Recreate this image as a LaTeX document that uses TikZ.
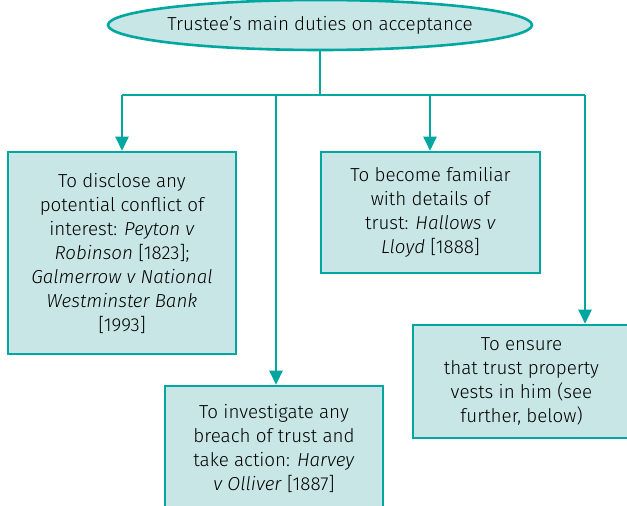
\documentclass[tikz,border=0pt]{standalone}
\usepackage{fontspec}
\setmainfont{Fira Sans}[UprightFont={* Light}, ItalicFont={* Light Italic}]
\usetikzlibrary{arrows.meta,shapes.geometric}
\definecolor{tealline}{RGB}{0,166,160}
\definecolor{tealfill}{RGB}{200,230,230}
\tikzset{
  x=1pt, y=-1pt,
  duty/.style={draw=tealline, fill=tealfill, line width=2.6pt, rectangle,
    align=center, inner sep=0pt, font=\fontsize{18.8}{24}\selectfont},
  title/.style={draw=tealline, fill=tealfill, line width=2.6pt, ellipse,
    inner xsep=-20pt, inner ysep=0pt, font=\fontsize{18.8}{24}\selectfont},
  link/.style={draw=tealline, line width=2.6pt},
  arr/.style={link, -{Triangle[length=14pt, width=13pt]}},
}
\begin{document}
\begin{tikzpicture}
\clip (0,0) rectangle (627,506);
\node[title, minimum width=424pt, minimum height=50pt] (top) at (320,25)
  {Trustee's main duties on acceptance};
\node[duty, minimum width=228pt, minimum height=202pt] (disclose) at (122,253)
  {To disclose any\\potential conflict of\\interest: \textit{Peyton v}\\\textit{Robinson} [1823];\\\textit{Galmerrow v National}\\\textit{Westminster Bank}\\{}[1993]};
\node[duty, minimum width=219pt, minimum height=121pt] (familiar) at (430.5,212.5)
  {To become familiar\\with details of\\trust: \textit{Hallows v}\\\textit{Lloyd} [1888]};
\node[duty, minimum width=218pt, minimum height=124pt] (investigate) at (274,448)
  {To investigate any\\breach of trust and\\take action: \textit{Harvey}\\\textit{v Olliver} [1887]};
\node[duty, minimum width=217pt, minimum height=113pt] (vest) at (521.5,381.5)
  {To ensure\\that trust property\\vests in him (see\\further, below)};
\coordinate (split) at (320,95);
\coordinate (l1) at (122,95);
\coordinate (l2) at (276,95);
\coordinate (l3) at (430,95);
\coordinate (l4) at (585,95);
\draw[link] (top.south) -- (split);
\draw[link] (l1) -- (l4);
\draw[arr] (l1) -- (disclose.north);
\draw[arr] (l2) -- (l2 |- investigate.north);
\draw[arr] (l3) -- (l3 |- familiar.north);
\draw[arr] (l4) -- (l4 |- vest.north);
\end{tikzpicture}
\end{document}
